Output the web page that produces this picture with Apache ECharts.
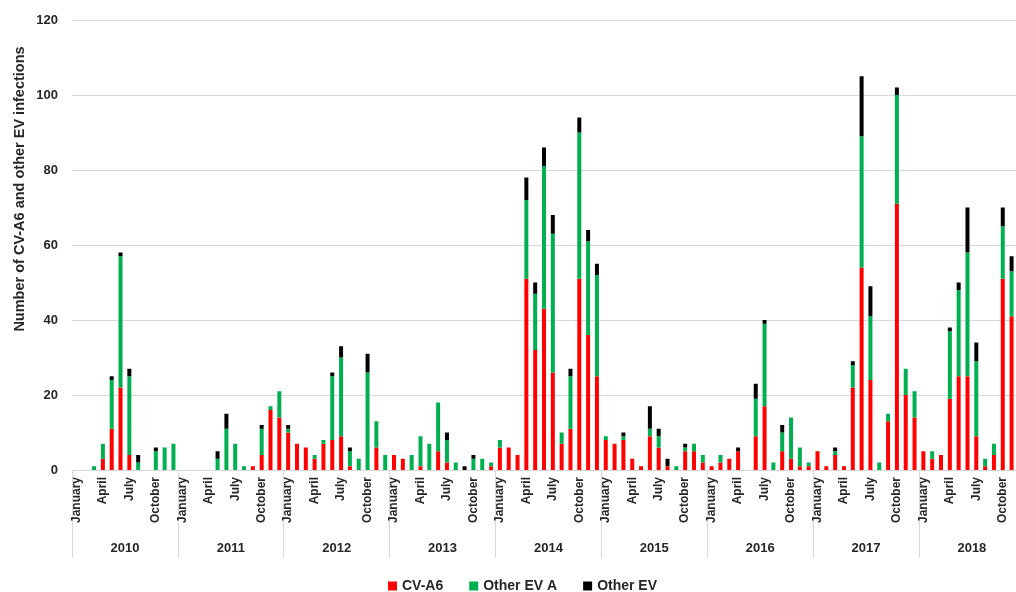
<!DOCTYPE html>
<html>
<head>
<meta charset="utf-8">
<script src="https://cdn.jsdelivr.net/npm/echarts@6/dist/echarts.min.js"></script>
<style>
  html, body { margin: 0; padding: 0; background: #ffffff; }
  #chart { width: 1016px; height: 592px; }
</style>
</head>
<body>
<div id="chart"></div>
<script>
// Monthly counts, January 2010 – November 2018
const years = ['2010', '2011', '2012', '2013', '2014', '2015', '2016', '2017', '2018'];
const monthNames = ['January', 'February', 'March', 'April', 'May', 'June',
  'July', 'August', 'September', 'October', 'November', 'December'];
const labelledMonths = ['January', 'April', 'July', 'October'];

const cvA6 = [
  0, 0, 0, 3, 11, 22, 4, 0, 0, 0, 0, 0,        // 2010
  0, 0, 0, 0, 0, 0, 0, 0, 1, 4, 16, 14,        // 2011
  10, 7, 6, 3, 7, 8, 9, 1, 0, 0, 6, 0,         // 2012
  4, 3, 0, 1, 0, 5, 2, 0, 0, 0, 0, 1,          // 2013
  6, 6, 4, 51, 32, 43, 26, 7, 11, 51, 36, 25,  // 2014
  8, 7, 8, 3, 1, 9, 6, 1, 0, 5, 5, 2,          // 2015
  1, 2, 3, 5, 0, 9, 17, 0, 5, 3, 1, 1,         // 2016
  5, 1, 4, 1, 22, 54, 24, 0, 13, 71, 20, 14,   // 2017
  5, 3, 4, 19, 25, 25, 9, 1, 4, 51, 41         // 2018
];
const otherEvA = [
  0, 0, 1, 4, 13, 35, 21, 2, 0, 5, 6, 7,
  0, 0, 0, 0, 3, 11, 7, 1, 0, 7, 1, 7,
  1, 0, 0, 1, 1, 17, 21, 4, 3, 26, 7, 4,
  0, 0, 4, 8, 7, 13, 6, 2, 0, 3, 3, 1,
  2, 0, 0, 21, 15, 38, 37, 3, 14, 39, 25, 27,
  1, 0, 1, 0, 0, 2, 3, 0, 1, 1, 2, 2,
  0, 2, 0, 0, 0, 10, 22, 2, 5, 11, 5, 1,
  0, 0, 1, 0, 6, 35, 17, 2, 2, 29, 7, 7,
  0, 2, 0, 18, 23, 33, 20, 2, 3, 14, 12
];
const otherEv = [
  0, 0, 0, 0, 1, 1, 2, 2, 0, 1, 0, 0,
  0, 0, 0, 0, 2, 4, 0, 0, 0, 1, 0, 0,
  1, 0, 0, 0, 0, 1, 3, 1, 0, 5, 0, 0,
  0, 0, 0, 0, 0, 0, 2, 0, 1, 1, 0, 0,
  0, 0, 0, 6, 3, 5, 5, 0, 2, 4, 3, 3,
  0, 0, 1, 0, 0, 6, 2, 2, 0, 1, 0, 0,
  0, 0, 0, 1, 0, 4, 1, 0, 2, 0, 0, 0,
  0, 0, 1, 0, 1, 16, 8, 0, 0, 2, 0, 0,
  0, 0, 0, 1, 2, 12, 5, 0, 0, 5, 4
];

const yMin = 0, yMax = 120, yStep = 20;

// one category per month
const categories = [];
years.forEach(function (y) {
  monthNames.forEach(function (m) {
    if (categories.length < cvA6.length) categories.push(m);
  });
});
const monthCount = categories.length;          // months drawn
const fullMonths = years.length * 12;          // months spanned by the year groups

const FONT = '"Liberation Sans", Arial, sans-serif';
const TEXT = '#262626';
const GRID = '#d9d9d9';

const PLOT_LEFT = 72;
const PLOT_WIDTH = 1016 - PLOT_LEFT;
const monthPx = PLOT_WIDTH / monthCount;
// the year-group grid spans full years, so the last group runs past the right edge
const yearGridWidth = fullMonths * monthPx;

const chart = echarts.init(document.getElementById('chart'));

function barSeries(name, data, color) {
  return {
    name: name,
    type: 'bar',
    stack: 'cases',
    data: data,
    barWidth: 4,
    itemStyle: { color: color },
    emphasis: { disabled: true }
  };
}

chart.setOption({
  animation: false,
  textStyle: { fontFamily: FONT },
  grid: [
    { left: PLOT_LEFT, width: PLOT_WIDTH, top: 20, bottom: 122, outerBoundsMode: 'none' },
    { left: PLOT_LEFT, width: yearGridWidth, top: 20, bottom: 122, outerBoundsMode: 'none' }
  ],
  legend: {
    left: 388,
    top: 579,
    padding: 0,
    icon: 'rect',
    itemWidth: 9,
    itemHeight: 9,
    itemGap: 26,
    textStyle: { fontFamily: FONT, fontWeight: 'bold', fontSize: 14, color: TEXT },
    data: ['CV-A6', 'Other EV A', 'Other EV']
  },
  graphic: [{
    type: 'text',
    x: 20,
    y: 189,
    rotation: Math.PI / 2,
    style: {
      text: 'Number of CV-A6 and other EV infections',
      font: 'bold 14.5px ' + FONT,
      fill: TEXT,
      align: 'center',
      verticalAlign: 'middle'
    }
  }],
  xAxis: [
    {
      // month level
      type: 'category',
      gridIndex: 0,
      data: categories,
      boundaryGap: true,
      axisLine: { lineStyle: { color: GRID, width: 1 } },
      axisTick: { show: false },
      axisLabel: {
        interval: function (i) { return labelledMonths.indexOf(categories[i]) >= 0; },
        rotate: 90,
        margin: 7,
        fontFamily: FONT,
        fontWeight: 'bold',
        fontSize: 12,
        color: TEXT
      },
      splitLine: { show: false }
    },
    {
      // year level, labels centred on each year's twelve months
      type: 'value',
      gridIndex: 1,
      position: 'bottom',
      min: 0,
      max: fullMonths,
      interval: 6,
      axisLine: { show: false },
      axisTick: { show: false },
      splitLine: { show: false },
      axisLabel: {
        margin: 72,
        fontFamily: FONT,
        fontWeight: 'bold',
        fontSize: 13,
        color: TEXT,
        formatter: function (v) {
          return (v % 12 === 6) ? years[(v - 6) / 12] : '';
        }
      }
    },
    {
      // year separators
      type: 'value',
      gridIndex: 1,
      position: 'bottom',
      min: 0,
      max: fullMonths,
      interval: 12,
      axisLine: { show: false },
      axisLabel: { show: false },
      splitLine: { show: false },
      axisTick: { show: true, length: 88, lineStyle: { color: GRID, width: 1 } }
    }
  ],
  yAxis: [
    {
      type: 'value',
      gridIndex: 0,
      min: yMin,
      max: yMax,
      interval: yStep,
      axisLine: { show: false },
      axisTick: { show: false },
      axisLabel: {
        margin: 14,
        fontFamily: FONT,
        fontWeight: 'bold',
        fontSize: 13,
        color: TEXT
      },
      splitLine: { lineStyle: { color: GRID, width: 1 } }
    },
    {
      type: 'value',
      gridIndex: 1,
      min: yMin,
      max: yMax,
      show: false
    }
  ],
  series: [
    barSeries('CV-A6', cvA6, '#ff0000'),
    barSeries('Other EV A', otherEvA, '#00b050'),
    barSeries('Other EV', otherEv, '#000000')
  ]
});
</script>
</body>
</html>
